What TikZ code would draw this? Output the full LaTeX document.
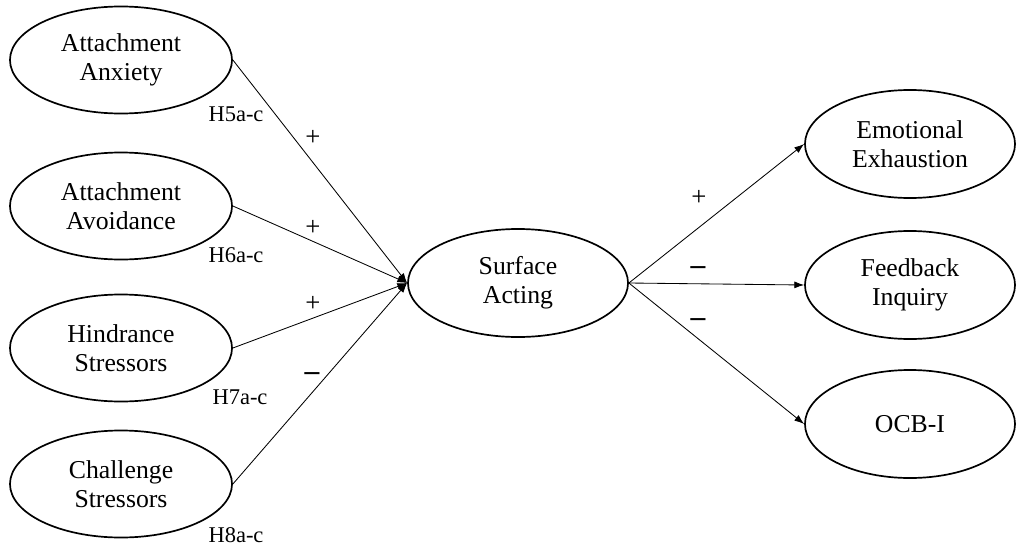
\documentclass[tikz,border=0pt]{standalone}
\usepackage{fontspec}
\setmainfont{Liberation Serif}
\usepackage{tikz}
\usetikzlibrary{arrows.meta,positioning,shapes}

\begin{document}
\begin{tikzpicture}[
    x=0.025cm, y=-0.025cm,
    construct/.style = {ellipse, draw=black, line width=1.2pt, fill=white,
                        minimum width=5.55cm, minimum height=2.675cm,
                        inner sep=0pt, align=center,
                        font=\fontsize{18.3}{20.5}\selectfont},
    outcome/.style   = {construct, minimum width=5.25cm, minimum height=2.7cm},
    arrow/.style     = {-{Latex[length=7pt,width=5pt]}, line width=0.6pt},
    hyp/.style       = {font=\fontsize{16}{18}\selectfont, inner sep=0pt},
    sign/.style      = {font=\fontsize{19}{20}\selectfont, inner sep=0pt},
    neg/.style       = {font=\fontsize{21}{21}\selectfont\bfseries, inner sep=0pt}
]
\useasboundingbox (0,0) rectangle (1018,546);

% Antecedents
\node[construct] (anx) at (121,60)  {Attachment\\Anxiety};
\node[construct] (avo) at (121,206) {Attachment\\Avoidance};
\node[construct] (hin) at (121,348) {Hindrance\\Stressors};
\node[construct] (cha) at (121,484) {Challenge\\Stressors};

% Mediator
\node[construct, minimum width=5.5cm, minimum height=2.7cm] (sa) at (518,283) {Surface\\Acting};

% Outcomes
\node[outcome] (ee)  at (910,144) {Emotional\\Exhaustion};
\node[outcome] (fi)  at (910,285) {Feedback\\Inquiry};
\node[outcome] (ocb) at (910,424) {OCB-I};

% Hypotheses
\node[hyp] (h5) at (236,114) {H5a-c};
\node[hyp] (h6) at (236,255) {H6a-c};
\node[hyp] (h7) at (240,397) {H7a-c};
\node[hyp] (h8) at (236,535) {H8a-c};

% Signs
\node[sign] (s1) at (313,138) {+};
\node[sign] (s2) at (313,228) {+};
\node[sign] (s3) at (313,304) {+};
\node[neg]  (s4) at (312,377) {–};
\node[sign] (s5) at (699,198) {+};
\node[neg]  (s6) at (698,271) {–};
\node[neg]  (s7) at (698,323) {–};

% Arrows
\draw[arrow] (anx.east) -- (sa.west);
\draw[arrow] (avo.east) -- (sa.west);
\draw[arrow] (hin.east) -- (sa.west);
\draw[arrow] (cha.east) -- (sa.west);
\draw[arrow] (sa.east)  -- (ee.west);
\draw[arrow] (sa.east)  -- (fi.west);
\draw[arrow] (sa.east)  -- (ocb.west);

\end{tikzpicture}
\end{document}
